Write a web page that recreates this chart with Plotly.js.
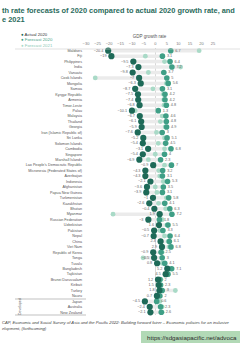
<!DOCTYPE html>
<html><head><meta charset="utf-8">
<script src="https://cdn.plot.ly/plotly-3.0.1.min.js"></script>
<style>html,body{margin:0;padding:0;background:#fff}#c{width:240px;height:343px}</style>
</head><body><div id="c"></div>
<script>
const countries = ["Maldives","Fiji","Philippines","India","Vanuatu","Cook Islands","Mongolia","Samoa","Kyrgyz Republic","Armenia","Timor-Leste","Palau","Malaysia","Thailand","Georgia","Iran (Islamic Republic of)","Sri Lanka","Solomon Islands","Cambodia","Singapore","Marshall Islands","Lao People's Democratic Republic","Micronesia (Federated States of)","Azerbaijan","Indonesia","Afghanistan","Papua New Guinea","Turkmenistan","Kazakhstan","Bhutan","Myanmar","Russian Federation","Uzbekistan","Pakistan","Nepal","China","Viet Nam","Republic of Korea","Tonga","Tuvalu","Bangladesh","Tajikistan","Brunei Darussalam","Kiribati","Turkey","Nauru","Japan","Australia","New Zealand"];
const actual2020 = [-20.4,-19.0,-9.5,-7.3,-9.8,-7.0,-6.3,-8.7,-7.5,-7.4,-6.8,-10.1,-6.7,-6.1,-5.9,-7.6,-5.2,-5.4,-3.1,-5.4,-6.9,-0.9,-4.3,-4.3,-2.1,-3.6,-3.9,-1.0,-2.6,-0.4,1.9,-3.0,1.6,-0.5,-0.7,2.3,2.9,-0.9,-0.5,0.8,5.2,4.5,1.2,1.5,1.8,0.7,-4.5,-2.4,-2.1];
const forecast2020 = [6.7,3.1,6.4,7.2,3.7,5.0,5.6,3.1,4.2,4.2,4.8,1.3,4.6,4.8,4.9,3.0,5.1,4.5,6.8,4.0,2.3,7.0,3.2,3.1,5.3,3.5,3.1,5.8,4.1,6.3,7.2,1.8,5.5,3.3,6.4,6.1,6.8,2.5,3.0,4.1,7.1,5.5,2.0,2.3,3.0,2.0,0.6,2.3,2.6];
const forecast2021 = [19.0,-4.3,4.0,11.0,-3.0,-26.0,4.8,-1.0,3.5,3.7,3.8,-8.7,3.0,2.2,4.3,0.5,4.0,1.3,4.0,0.0,-3.0,4.0,1.5,1.9,3.5,0.0,0.7,4.8,1.4,4.5,-18.3,3.0,5.0,2.0,4.0,5.6,6.0,3.0,-5.3,3.0,6.8,5.0,2.5,2.0,8.7,1.5,2.0,3.0,3.0];

const L = 86, R = 213, T = 48, B = 315;
const px = v => (v - L) / (R - L);
const py = v => (B - v) / (B - T);

const segX = [], segY = [];
countries.forEach((c, i) => {
  const vals = [actual2020[i], forecast2020[i], forecast2021[i]];
  segX.push(Math.min(...vals), Math.max(...vals), null);
  segY.push(c, c, null);
});

const dark = '#1e6a58', mid = '#3f9f86', light = '#a9dac7';
const traces = [
  {x: segX, y: segY, mode: 'lines', line: {color: '#ebebeb', width: 3.5}, hoverinfo: 'skip', showlegend: false},
  {x: forecast2021, y: countries, mode: 'markers', marker: {color: light, size: 4.8, symbol: 'circle'}, showlegend: false, cliponaxis: false},
  {x: forecast2020, y: countries, mode: 'markers+text', marker: {color: mid, size: 5.6}, texttemplate: '%{x}', textposition: 'middle right', textfont: {size: 3.8, color: '#666', family: 'Arial'}, showlegend: false, cliponaxis: false},
  {x: actual2020, y: countries, mode: 'markers+text', marker: {color: dark, size: 6.2}, texttemplate: '%{x}', textposition: 'middle left', textfont: {size: 3.8, color: '#666', family: 'Arial'}, showlegend: false, cliponaxis: false}
];

const ann = [
  {text: '<b>th rate forecasts of 2020 compared to actual 2020 growth rate, and</b>', x: px(0), y: py(10), xanchor: 'left', yanchor: 'middle', font: {size: 7.4, color: '#2b6b5c', family: 'Arial'}},
  {text: '<b>e 2021</b>', x: px(0), y: py(20), xanchor: 'left', yanchor: 'middle', font: {size: 7.4, color: '#2b6b5c', family: 'Arial'}},
  {text: '<span style="color:' + dark + '">●</span> Actual 2020', x: px(19), y: py(34), xanchor: 'left', yanchor: 'middle', font: {size: 4.3, color: '#333', family: 'Arial'}},
  {text: '<span style="color:' + mid + '">●</span> <span style="color:' + mid + '">Forecast 2020</span>', x: px(19), y: py(40), xanchor: 'left', yanchor: 'middle', font: {size: 4.3, color: '#333', family: 'Arial'}},
  {text: '<span style="color:' + light + '">●</span> <span style="color:#8cc9b4">Forecast 2021</span>', x: px(19), y: py(46), xanchor: 'left', yanchor: 'middle', font: {size: 4.3, color: '#333', family: 'Arial'}},
  {text: 'Developed', x: px(20), y: py(307), textangle: -90, xanchor: 'center', yanchor: 'middle', font: {size: 3.5, color: '#555', family: 'Arial'}},
  {text: '<i>CAP, Economic and Social Survey of Asia and the Pacific 2022: Building forward fairer – Economic policies for an inclusive</i>', x: px(0), y: py(322.5), xanchor: 'left', yanchor: 'middle', font: {size: 4.2, color: '#444', family: 'Arial'}},
  {text: '<i>elopment, (forthcoming)</i>', x: px(0), y: py(328.5), xanchor: 'left', yanchor: 'middle', font: {size: 4.2, color: '#444', family: 'Arial'}},
  {text: 'https://sdgasiapacific.net/advoca', x: px(145), y: py(337.5), xanchor: 'left', yanchor: 'middle', font: {size: 6.2, color: '#2a2a2a', family: 'Arial'}}
].map(a => Object.assign({xref: 'paper', yref: 'paper', showarrow: false}, a));

const shapes = [
  {type: 'line', x0: px(15), x1: px(240), y0: py(49), y1: py(49), line: {color: '#cfcfcf', width: 0.6}},
  {type: 'line', x0: px(15), x1: px(86), y0: py(299), y1: py(299), line: {color: '#999', width: 0.6}},
  {type: 'line', x0: px(15), x1: px(86), y0: py(315), y1: py(315), line: {color: '#999', width: 0.6}},
  {type: 'rect', x0: px(141), x1: px(241), y0: py(331), y1: py(344), fillcolor: '#b2d9b6', line: {width: 0}}
].map(s => Object.assign({xref: 'paper', yref: 'paper'}, s));

const layout = {
  width: 240, height: 343,
  margin: {l: L, r: 240 - R, t: T, b: 343 - B, pad: 0},
  paper_bgcolor: '#fff', plot_bgcolor: '#fff',
  showlegend: false,
  xaxis: {range: [-30, 25], side: 'top', tickvals: [-30,-25,-20,-15,-10,-5,0,5,10,15,20,25], tickfont: {size: 4, color: '#777', family: 'Arial'}, ticks: '', showgrid: false, zeroline: true, zerolinecolor: '#c8c8c8', zerolinewidth: 0.7, showline: false, ticklabelstandoff: 1, title: {text: 'GDP growth rate', font: {size: 4.5, color: '#555', family: 'Arial'}, standoff: 2}, fixedrange: true},
  yaxis: {type: 'category', categoryorder: 'array', categoryarray: countries, range: [48.5, -0.5], tickfont: {size: 3.7, color: '#555', family: 'Arial'}, ticks: '', showgrid: false, zeroline: false, showline: false, ticklabelstandoff: 3, fixedrange: true},
  annotations: ann, shapes: shapes
};
Plotly.newPlot('c', traces, layout, {displayModeBar: false, staticPlot: true});
</script></body></html>
